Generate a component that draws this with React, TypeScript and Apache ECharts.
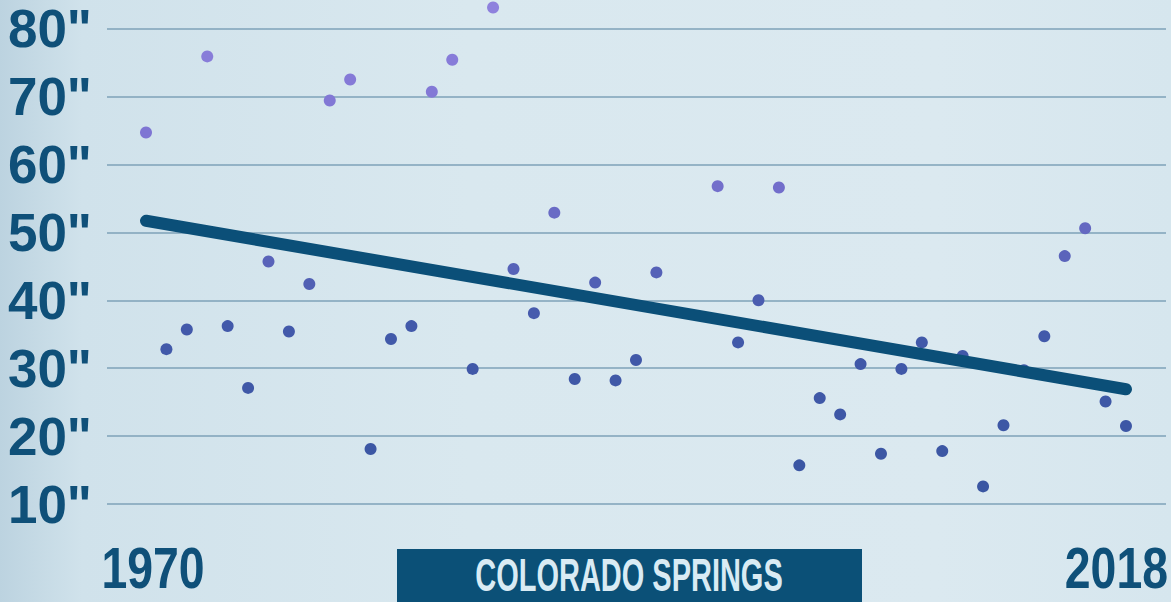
import React, { useEffect, useRef } from "react";
import * as echarts from "echarts";

const years: number[] = [
  1970, 1971, 1972, 1973, 1974, 1975, 1976, 1977, 1978, 1979,
  1980, 1981, 1982, 1983, 1984, 1985, 1986, 1987, 1988, 1989,
  1990, 1991, 1992, 1993, 1994, 1995, 1996, 1997, 1998, 1999,
  2000, 2001, 2002, 2003, 2004, 2005, 2006, 2007, 2008, 2009,
  2010, 2011, 2012, 2013, 2014, 2015, 2016, 2017, 2018,
];

const snowfall: (number | null)[] = [
  64.7, 32.8, 35.7, 75.9, 36.2, 27.1, 45.7, 35.4, 42.4, 69.4,
  72.5, 18.1, 34.3, 36.2, 70.7, 75.4, 29.9, 83.1, 44.6, 38.1,
  52.9, 28.4, 42.6, 28.2, 31.2, 44.1, null, null, 56.8, 33.8,
  40.0, 56.6, 15.7, 25.6, 23.2, 30.6, 17.4, 29.9, 33.8, 17.8,
  31.8, 12.6, 21.6, 29.7, 34.7, 46.5, 50.6, 25.1, 21.5,
];

const trendYears: number[] = [1970, 2018];
const trendValues: number[] = [51.7, 26.9];

const yTickLabels: number[] = [10, 20, 30, 40, 50, 60, 70, 80];
const xTickLabels: number[] = [1970, 2018];
const title = "COLORADO SPRINGS";

const FONT = "'Liberation Sans', Arial, sans-serif";
const TEXT_BLUE = "#0f5079";

export default function App() {
  const ref = useRef<HTMLDivElement>(null);

  useEffect(() => {
    document.body.style.margin = "0";
    if (!ref.current) return;
    const chart = echarts.init(ref.current, null, { renderer: "svg" });

    const points = years
      .map((y, i) => [y, snowfall[i]])
      .filter((p) => p[1] !== null);
    const trend = trendYears.map((y, i) => [y, trendValues[i]]);

    chart.setOption({
      animation: false,
      backgroundColor: "transparent",
      grid: {
        left: 107,
        right: 5,
        top: 0,
        bottom: 30,
        containLabel: false,
        outerBoundsMode: "none",
      },
      xAxis: {
        type: "value",
        min: 1968.09,
        max: 2019.96,
        axisLine: { show: false },
        axisTick: { show: false },
        splitLine: { show: false },
        axisLabel: { show: false },
      },
      yAxis: {
        type: "value",
        min: 0,
        max: 84.2,
        interval: 10,
        axisLine: { show: false },
        axisTick: { show: false },
        splitLine: {
          show: true,
          showMinLine: false,
          showMaxLine: false,
          lineStyle: { color: "#7ea2b9", width: 1.5 },
        },
        axisLabel: {
          formatter: (v: number) => (yTickLabels.includes(v) ? v + '"' : ""),
          fontFamily: FONT,
          fontWeight: "bold",
          fontSize: 53,
          color: TEXT_BLUE,
          margin: 15,
        },
      },
      visualMap: {
        show: false,
        type: "continuous",
        seriesIndex: 0,
        dimension: 1,
        min: 12,
        max: 84,
        inRange: { color: ["#3a56a2", "#4259aa", "#7a72d0", "#8f82de"] },
      },
      series: [
        {
          type: "scatter",
          data: points,
          symbolSize: 12,
          itemStyle: { opacity: 1 },
          z: 2,
        },
        {
          type: "line",
          data: trend,
          symbol: "none",
          z: 3,
          lineStyle: { color: "#0b4f78", width: 12, cap: "round" },
        },
      ],
    });

    const xPx = xTickLabels.map(
      (v) => chart.convertToPixel({ gridIndex: 0 }, [v, 0])[0]
    );

    const yearStyle = {
      fontFamily: FONT,
      fontWeight: "bold",
      fontSize: 58,
      fill: TEXT_BLUE,
      textVerticalAlign: "middle",
    };

    chart.setOption({
      graphic: [
        {
          type: "text",
          x: xPx[0] + 7,
          y: 568,
          scaleX: 0.8,
          style: { ...yearStyle, text: String(xTickLabels[0]), textAlign: "center" },
        },
        {
          type: "text",
          x: xPx[1] + 42,
          y: 568,
          scaleX: 0.8,
          style: { ...yearStyle, text: String(xTickLabels[1]), textAlign: "right" },
        },
        {
          type: "rect",
          shape: { x: 397, y: 549, width: 465, height: 60 },
          style: { fill: "#0b5077" },
          z: 10,
        },
        {
          type: "text",
          x: 629,
          y: 575,
          scaleX: 0.63,
          style: {
            text: title,
            fontFamily: FONT,
            fontWeight: "bold",
            fontSize: 46,
            fill: "#d9ebf4",
            textAlign: "center",
            textVerticalAlign: "middle",
          },
          z: 11,
        },
      ],
    });

    return () => chart.dispose();
  }, []);

  return (
    <div
      ref={ref}
      style={{
        width: 1171,
        height: 602,
        background:
          "linear-gradient(90deg, #bcd3e0 0%, #d0e2eb 7%, #d9e8ef 40%, #dbe9f0 80%, #d6e6ee 100%)",
      }}
    />
  );
}
